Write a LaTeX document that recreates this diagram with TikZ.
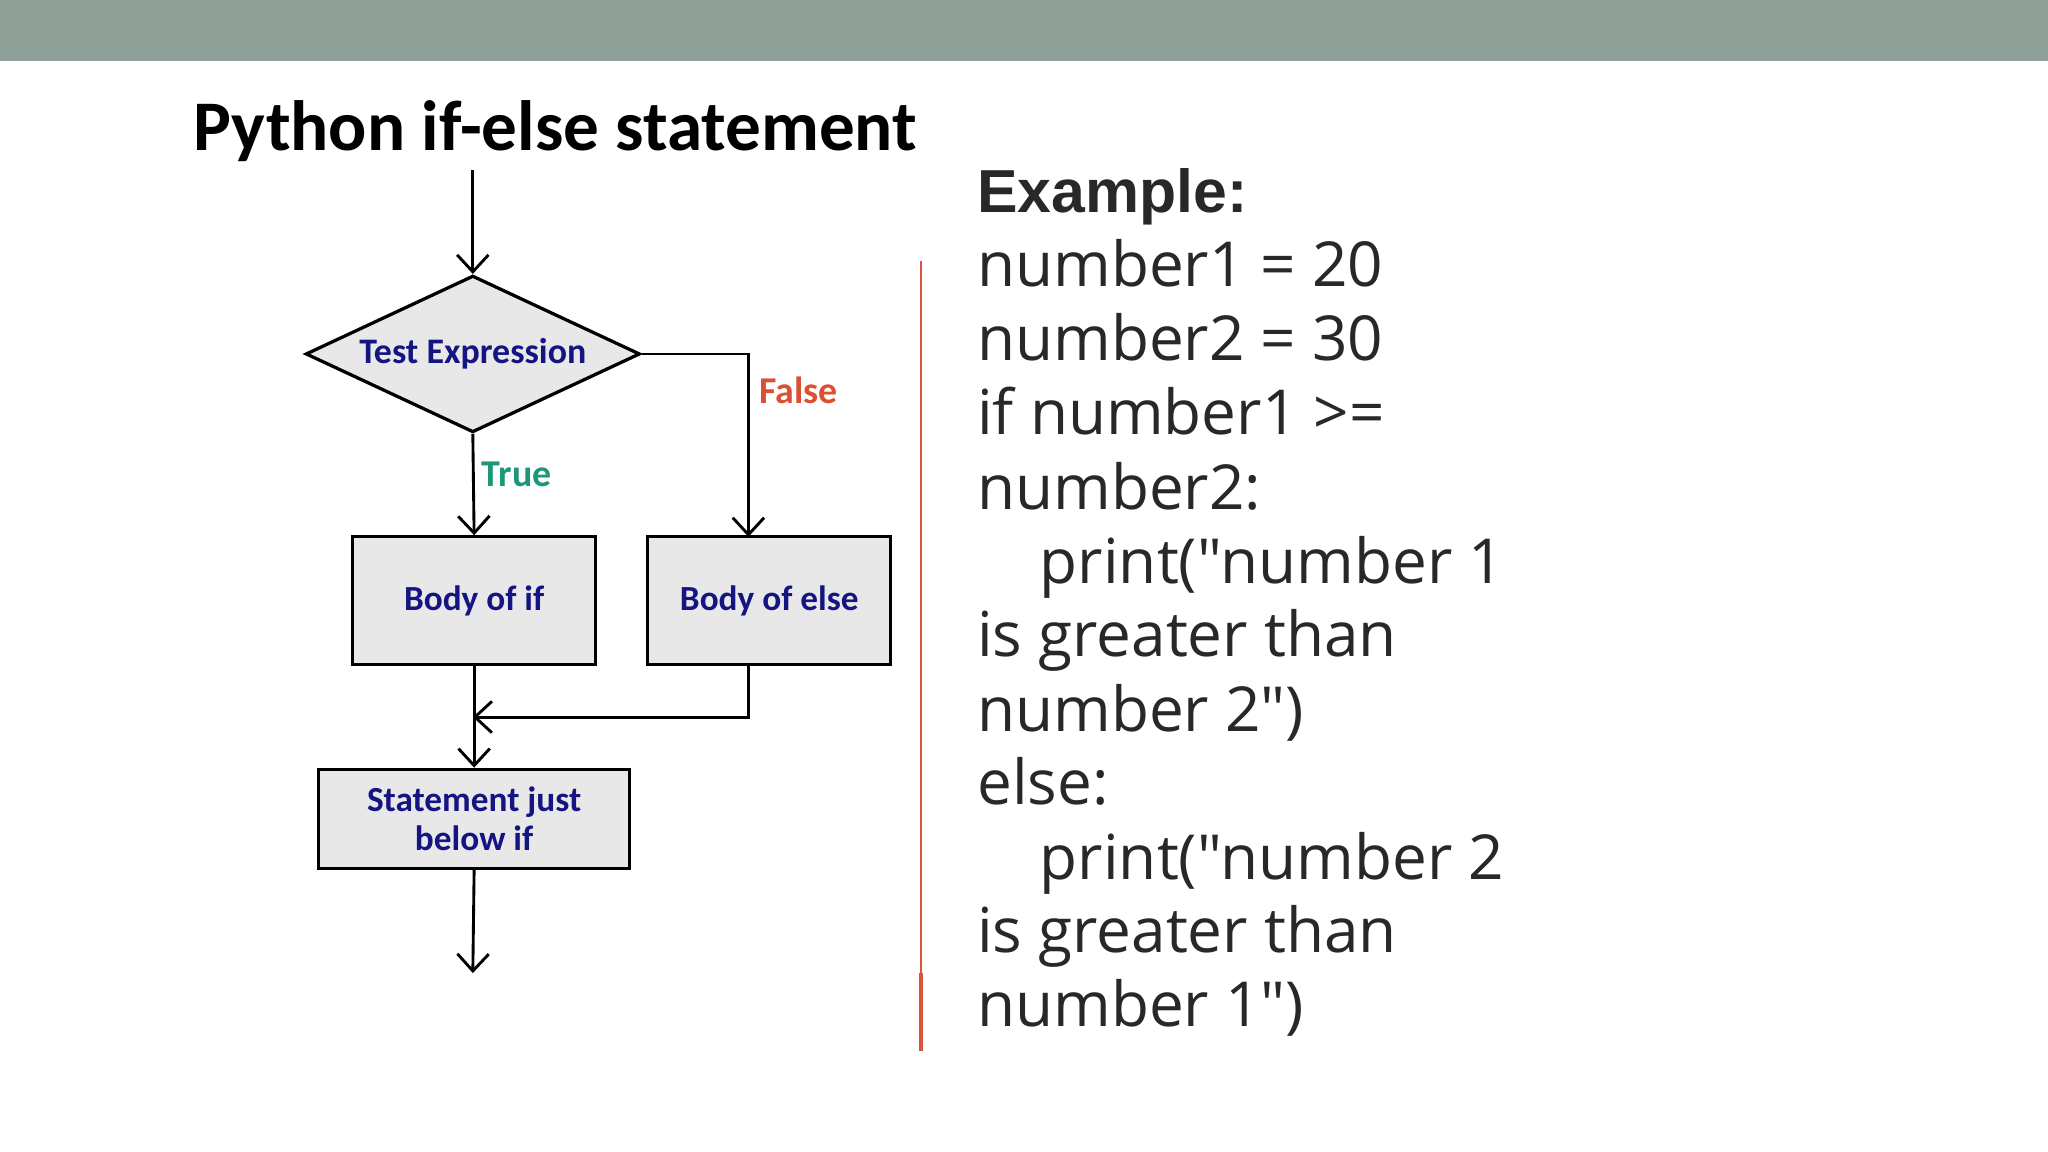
\documentclass[tikz,border=0pt]{standalone}
\usepackage{fontspec}
\setmainfont{Carlito}
\newfontfamily\exfont{Liberation Sans}
\newfontfamily\codefont{Open Sans}
\usetikzlibrary{shapes.geometric,arrows.meta}
\definecolor{barc}{RGB}{143,160,153}
\definecolor{navyc}{RGB}{20,20,130}
\definecolor{falsec}{RGB}{220,80,50}
\definecolor{truec}{RGB}{30,150,120}
\definecolor{boxc}{RGB}{232,232,232}
\definecolor{redl}{RGB}{217,85,58}
\definecolor{txtc}{RGB}{40,40,40}
\begin{document}
\begin{tikzpicture}[x=1pt,y=-1pt,
  fbox/.style={draw,line width=2.5pt,fill=boxc,font=\bfseries\fontsize{27}{30}\selectfont,text=navyc,align=center,inner sep=0},
  arr/.style={line width=2.2pt,-{Straight Barb[length=13pt,width=24pt,line width=2.2pt]}},
  ln/.style={line width=2.2pt},
  code/.style={anchor=base west,inner sep=0,font=\codefont\fontsize{47.5}{55}\selectfont,text=txtc}]
\useasboundingbox (0,0) rectangle (1568,882);
\fill[white] (0,0) rectangle (1568,882);
\fill[barc] (0,0) rectangle (1568,47);
\node[anchor=base west,inner sep=0,font=\bfseries\fontsize{54.5}{60}\selectfont] (title) at (148,115) {Python if-else statement};
\coordinate (top) at (362,130);
\node[diamond,draw,line width=2.5pt,fill=boxc,minimum width=256,minimum height=120,inner sep=0,aspect=2.13,font=\bfseries\fontsize{27.5}{30}\selectfont,text=navyc] (test) at (362,271) {Test Expression};
\node[fbox,minimum width=186,minimum height=98] (bif) at (363,460) {Body of if};
\node[fbox,minimum width=186,minimum height=98] (belse) at (589,460) {Body of else};
\node[fbox,minimum width=238,minimum height=76] (stmt) at (363,627) {Statement just\\below if};
\coordinate (bot) at (362,745);
\coordinate (m) at (362,549);
\draw[arr] (top) -- (test.north);
\draw[arr] (test.south) -- node[right,pos=0.4,font=\bfseries\fontsize{29}{30}\selectfont,text=truec,xshift=2]{True} (bif.north);
\draw[arr] (test.east) -| node[right,pos=0.6,font=\bfseries\fontsize{29}{30}\selectfont,text=falsec,xshift=4]{False} (573,411);
\draw[arr] (bif.south) -- (stmt.north);
\draw[ln] (573,509) |- (m);
\draw[arr] (573,549) -- (m);
\draw[arr] (stmt.south) -- (bot);
\draw[redl,line width=1.2pt] (705,200) -- (705,745);
\draw[redl,line width=3pt] (705,745) -- (705,805);
\node[anchor=base west,inner sep=0,font=\exfont\bfseries\fontsize{46.5}{50}\selectfont,text=txtc] (ex) at (748,163) {Example:};
\node[code] (c1) at (748,219) {number1 = 20};
\node[code] (c2) at (748,276) {number2 = 30};
\node[code] (c3) at (748,333) {if number1 >=};
\node[code] (c4) at (748,390) {number2:};
\node[code] (c5) at (796,447) {print("number 1};
\node[code] (c6) at (748,503) {is greater than};
\node[code] (c7) at (748,560) {number 2")};
\node[code] (c8) at (748,616) {else:};
\node[code] (c9) at (796,673) {print("number 2};
\node[code] (c10) at (748,729) {is greater than};
\node[code] (c11) at (748,786) {number 1")};
\end{tikzpicture}
\end{document}
